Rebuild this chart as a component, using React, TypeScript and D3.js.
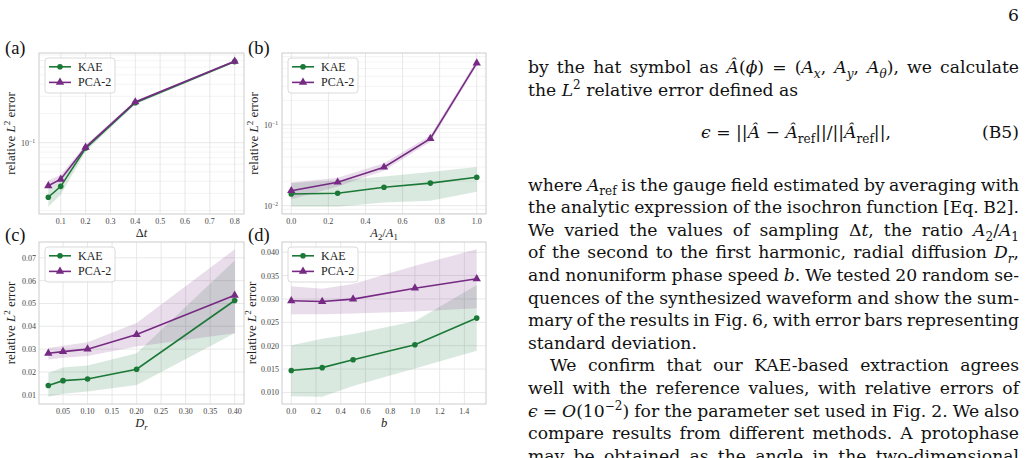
import React, { useLayoutEffect, useRef } from 'react';
import * as d3 from 'd3';

const PAGE_W = 1027;
const PAGE_H = 458;
const SERIF = '"Liberation Serif", "Times New Roman", serif';
const BODY_SERIF = '"DejaVu Serif", "Liberation Serif", serif';
const KAE_COLOR = '#1b7837';
const PCA_COLOR = '#762a83';

// (a) sampling interval Δt
const dtValues = [0.05, 0.1, 0.2, 0.4, 0.8];
const dtKaeMean = [0.0274, 0.0355, 0.0875, 0.258, 0.685];
const dtKaeLow = [0.0219, 0.029, 0.081, 0.248, 0.665];
const dtKaeHigh = [0.0325, 0.040, 0.093, 0.268, 0.703];
const dtPcaMean = [0.036, 0.042, 0.0897, 0.263, 0.69];
const dtPcaLow = [0.0325, 0.0395, 0.085, 0.255, 0.674];
const dtPcaHigh = [0.041, 0.0465, 0.095, 0.271, 0.706];

// (b) harmonic ratio A2/A1
const ratioValues = [0, 0.25, 0.5, 0.75, 1.0];
const ratioKaeMean = [0.01395, 0.0142, 0.0169, 0.019, 0.0225];
const ratioKaeLow = [0.0097, 0.0097, 0.0109, 0.0115, 0.0148];
const ratioKaeHigh = [0.019, 0.0205, 0.023, 0.026, 0.030];
const ratioPcaMean = [0.0153, 0.0195, 0.0299, 0.0676, 0.582];
const ratioPcaLow = [0.012, 0.0172, 0.027, 0.062, 0.54];
const ratioPcaHigh = [0.0193, 0.0222, 0.0335, 0.074, 0.63];

// (c) radial diffusion Dr
const drValues = [0.02, 0.05, 0.1, 0.2, 0.4];
const drKaeMean = [0.0141, 0.0162, 0.0169, 0.0212, 0.0513];
const drKaeLow = [0.0092, 0.0105, 0.0115, 0.0143, 0.037];
const drKaeHigh = [0.0195, 0.022, 0.0228, 0.0282, 0.0688];
const drPcaMean = [0.0282, 0.0289, 0.030, 0.0364, 0.0536];
const drPcaLow = [0.0255, 0.0262, 0.027, 0.0312, 0.037];
const drPcaHigh = [0.0305, 0.0315, 0.033, 0.0415, 0.0737];

// (d) nonuniform phase speed b
const bValues = [0, 0.25, 0.5, 1.0, 1.5];
const bKaeMean = [0.0147, 0.0153, 0.0170, 0.0202, 0.0259];
const bKaeLow = [0.0092, 0.0091, 0.0114, 0.0151, 0.0189];
const bKaeHigh = [0.0201, 0.0215, 0.0225, 0.0252, 0.033];
const bPcaMean = [0.0296, 0.02945, 0.02995, 0.0323, 0.0343];
const bPcaLow = [0.0267, 0.0267, 0.0269, 0.0273, 0.028];
const bPcaHigh = [0.0327, 0.0322, 0.0332, 0.0371, 0.0406];

// tick values
const dtTicks = [0.1, 0.2, 0.3, 0.4, 0.5, 0.6, 0.7, 0.8];
const ratioTicks = [0, 0.2, 0.4, 0.6, 0.8, 1.0];
const drTicks = [0.05, 0.1, 0.15, 0.2, 0.25, 0.3, 0.35, 0.4];
const bTicks = [0, 0.2, 0.4, 0.6, 0.8, 1.0, 1.2, 1.4];
const drYTicks = [0.01, 0.02, 0.03, 0.04, 0.05, 0.06, 0.07];
const bYTicks = [0.01, 0.015, 0.02, 0.025, 0.03, 0.035, 0.04];

const seriesNames = ['KAE', 'PCA-2'];

type Seg = { t: string; i?: boolean; sub?: boolean; sup?: boolean };

function renderSegs(segs: Seg[], size: number) {
  let shift = 0;
  return segs.map((s, k) => {
    const target = s.sub ? size * 0.28 : s.sup ? -size * 0.4 : 0;
    const dy = target - shift;
    shift = target;
    return (
      <tspan
        key={k}
        dy={dy}
        fontStyle={s.i ? 'italic' : undefined}
        fontSize={s.sub || s.sup ? size * 0.7 : undefined}
      >
        {s.t}
      </tspan>
    );
  });
}

interface SeriesSpec {
  name: string;
  color: string;
  marker: 'circle' | 'triangle';
  mean: number[];
  low: number[];
  high: number[];
}

interface PanelSpec {
  tag: string;
  box: { left: number; top: number; right: number; bottom: number };
  xs: number[];
  series: SeriesSpec[];
  logY: boolean;
  xTicks: number[];
  xFmt: (v: number) => string;
  yTicks: number[];
  yFmt: (v: number) => string;
  xLabel: Seg[];
  yLabelX: number;
  tagX: number;
  tagY: number;
}

function makeSeries(mk: number[], ml: number[], mh: number[], pm: number[], pl: number[], ph: number[]): SeriesSpec[] {
  return [
    { name: seriesNames[0], color: KAE_COLOR, marker: 'circle', mean: mk, low: ml, high: mh },
    { name: seriesNames[1], color: PCA_COLOR, marker: 'triangle', mean: pm, low: pl, high: ph },
  ];
}

const panels: PanelSpec[] = [
  {
    tag: '(a)',
    box: { left: 39, top: 53, right: 244, bottom: 214 },
    xs: dtValues,
    series: makeSeries(dtKaeMean, dtKaeLow, dtKaeHigh, dtPcaMean, dtPcaLow, dtPcaHigh),
    logY: true,
    xTicks: dtTicks,
    xFmt: (v) => v.toFixed(1),
    yTicks: [0.1],
    yFmt: () => '',
    xLabel: [{ t: 'Δ' }, { t: 't', i: true }],
    yLabelX: 15,
    tagX: 5,
    tagY: 53.5,
  },
  {
    tag: '(b)',
    box: { left: 282, top: 53, right: 486, bottom: 214 },
    xs: ratioValues,
    series: makeSeries(ratioKaeMean, ratioKaeLow, ratioKaeHigh, ratioPcaMean, ratioPcaLow, ratioPcaHigh),
    logY: true,
    xTicks: ratioTicks,
    xFmt: (v) => v.toFixed(1),
    yTicks: [0.01, 0.1],
    yFmt: () => '',
    xLabel: [{ t: 'A', i: true }, { t: '2', sub: true }, { t: '/' }, { t: 'A', i: true }, { t: '1', sub: true }],
    yLabelX: 258,
    tagX: 248,
    tagY: 53.5,
  },
  {
    tag: '(c)',
    box: { left: 39, top: 242, right: 244, bottom: 404 },
    xs: drValues,
    series: makeSeries(drKaeMean, drKaeLow, drKaeHigh, drPcaMean, drPcaLow, drPcaHigh),
    logY: false,
    xTicks: drTicks,
    xFmt: (v) => v.toFixed(2),
    yTicks: drYTicks,
    yFmt: (v) => v.toFixed(2),
    xLabel: [{ t: 'D', i: true }, { t: 'r', i: true, sub: true }],
    yLabelX: 15,
    tagX: 5,
    tagY: 240.5,
  },
  {
    tag: '(d)',
    box: { left: 282, top: 242, right: 486, bottom: 404 },
    xs: bValues,
    series: makeSeries(bKaeMean, bKaeLow, bKaeHigh, bPcaMean, bPcaLow, bPcaHigh),
    logY: false,
    xTicks: bTicks,
    xFmt: (v) => v.toFixed(1),
    yTicks: bYTicks,
    yFmt: (v) => v.toFixed(3),
    xLabel: [{ t: 'b', i: true }],
    yLabelX: 256,
    tagX: 248,
    tagY: 240.5,
  },
];

function minorLogTicks(domain: number[]) {
  const [lo, hi] = domain;
  const out: number[] = [];
  for (let d = Math.floor(Math.log10(lo)); d <= Math.ceil(Math.log10(hi)); d++) {
    for (let m = 2; m <= 9; m++) {
      const v = m * Math.pow(10, d);
      if (v > lo && v < hi) out.push(v);
    }
  }
  return out;
}

function Panel({ p }: { p: PanelSpec }) {
  const { left, top, right, bottom } = p.box;
  const [xmin, xmax] = d3.extent(p.xs) as [number, number];
  const xpad = (xmax - xmin) * 0.05;
  const x = d3.scaleLinear().domain([xmin - xpad, xmax + xpad]).range([left, right]);
  const lows = p.series.flatMap((s) => s.low);
  const highs = p.series.flatMap((s) => s.high);
  let y: (v: number) => number;
  let yDomain: number[];
  if (p.logY) {
    const lo = Math.log10(d3.min(lows)!);
    const hi = Math.log10(d3.max(highs)!);
    const pad = (hi - lo) * 0.05;
    const s = d3.scaleLog().domain([Math.pow(10, lo - pad), Math.pow(10, hi + pad)]).range([bottom, top]);
    y = s;
    yDomain = s.domain();
  } else {
    const lo = d3.min(lows)!;
    const hi = d3.max(highs)!;
    const pad = (hi - lo) * 0.05;
    const s = d3.scaleLinear().domain([lo - pad, hi + pad]).range([bottom, top]);
    y = s;
    yDomain = s.domain();
  }
  const idx = d3.range(p.xs.length);
  const minor = p.logY ? minorLogTicks(yDomain) : [];
  const tri = d3.symbol(d3.symbolTriangle, 30)()!;
  const midY = (top + bottom) / 2;
  const lgX = left + 6;
  const lgY = top + 5;

  return (
    <g>
      <rect x={left} y={top} width={right - left} height={bottom - top} fill="#ffffff" />
      {minor.map((v) => (
        <line key={'m' + v} x1={left} x2={right} y1={y(v)} y2={y(v)} stroke="#ededed" strokeWidth={0.6} />
      ))}
      {p.yTicks.map((v) => (
        <line key={'y' + v} x1={left} x2={right} y1={y(v)} y2={y(v)} stroke="#e2e2e2" strokeWidth={0.8} />
      ))}
      {p.xTicks.map((v) => (
        <line key={'x' + v} x1={x(v)} x2={x(v)} y1={top} y2={bottom} stroke="#e2e2e2" strokeWidth={0.8} />
      ))}
      {p.series.map((s) => {
        const band = d3
          .area<number>()
          .x((k) => x(p.xs[k]))
          .y0((k) => y(s.low[k]))
          .y1((k) => y(s.high[k]));
        return <path key={'band' + s.name} d={band(idx)!} fill={s.color} fillOpacity={0.16} stroke="none" />;
      })}
      {p.series.map((s) => {
        const ln = d3
          .line<number>()
          .x((k) => x(p.xs[k]))
          .y((k) => y(s.mean[k]));
        return (
          <g key={'ln' + s.name}>
            <path d={ln(idx)!} fill="none" stroke={s.color} strokeWidth={1.6} />
            {idx.map((k) =>
              s.marker === 'circle' ? (
                <circle key={k} cx={x(p.xs[k])} cy={y(s.mean[k])} r={2.8} fill={s.color} />
              ) : (
                <path key={k} d={tri} transform={`translate(${x(p.xs[k])},${y(s.mean[k])})`} fill={s.color} />
              )
            )}
          </g>
        );
      })}
      <rect x={left} y={top} width={right - left} height={bottom - top} fill="none" stroke="#cccccc" strokeWidth={1} />
      {/* tick labels */}
      {p.xTicks.map((v) => (
        <text key={'xt' + v} x={x(v)} y={bottom + 9.8} textAnchor="middle" fontSize={8} fill="#444">
          {p.xFmt(v)}
        </text>
      ))}
      {p.yTicks.map((v) =>
        p.logY ? (
          <text key={'yt' + v} x={left - 4} y={y(v) + 3} textAnchor="end" fontSize={8} fill="#444">
            <tspan>10</tspan>
            <tspan dy={-3} fontSize={5.6}>{'−' + Math.round(-Math.log10(v))}</tspan>
          </text>
        ) : (
          <text key={'yt' + v} x={left - 3} y={y(v) + 3} textAnchor="end" fontSize={8} fill="#444">
            {p.yFmt(v)}
          </text>
        )
      )}
      {/* axis labels */}
      <text x={(left + right) / 2} y={bottom + 22.5} textAnchor="middle" fontSize={12.5} fill="#222" style={{ whiteSpace: 'pre' }}>
        {renderSegs(p.xLabel, 12.5)}
      </text>
      <text
        transform={`translate(${p.yLabelX},${midY}) rotate(-90)`}
        textAnchor="middle"
        fontSize={13}
        fill="#222"
        style={{ whiteSpace: 'pre' }}
      >
        {renderSegs([{ t: 'relative ' }, { t: 'L', i: true }, { t: '2', sup: true }, { t: ' error' }], 13)}
      </text>
      {/* legend */}
      <rect x={lgX} y={lgY} width={70} height={35} rx={3} fill="#ffffff" fillOpacity={0.85} stroke="#d0d0d0" strokeWidth={0.8} />
      {p.series.map((s, k) => {
        const cy = lgY + 8.8 + k * 15.6;
        return (
          <g key={'lg' + s.name}>
            <line x1={lgX + 4} x2={lgX + 26} y1={cy} y2={cy} stroke={s.color} strokeWidth={1.6} />
            {s.marker === 'circle' ? (
              <circle cx={lgX + 15} cy={cy} r={2.8} fill={s.color} />
            ) : (
              <path d={tri} transform={`translate(${lgX + 15},${cy})`} fill={s.color} />
            )}
            <text x={lgX + 33} y={cy + 4} fontSize={12} fill="#222">
              {s.name}
            </text>
          </g>
        );
      })}
      <text x={p.tagX} y={p.tagY} fontSize={18.5} fill="#111">
        {p.tag}
      </text>
    </g>
  );
}

// body text of the right column
const TEXT_LEFT = 528;
const TEXT_RIGHT = 1019;
const TEXT_SIZE = 17.2;

interface TextLine {
  segs: Seg[];
  y: number;
  justify: boolean;
  indent?: number;
}

const plain = (t: string): Seg[] => [{ t }];

const bodyLines: TextLine[] = [
  {
    segs: [
      { t: 'by the hat symbol as ' },
      { t: 'Â', i: true },
      { t: '(' },
      { t: 'ϕ', i: true },
      { t: ') = (' },
      { t: 'A', i: true },
      { t: 'x', i: true, sub: true },
      { t: ', ' },
      { t: 'A', i: true },
      { t: 'y', i: true, sub: true },
      { t: ', ' },
      { t: 'A', i: true },
      { t: 'θ', i: true, sub: true },
      { t: '), we calculate' },
    ],
    y: 73,
    justify: true,
  },
  {
    segs: [{ t: 'the ' }, { t: 'L', i: true }, { t: '2', sup: true }, { t: ' relative error defined as' }],
    y: 95.5,
    justify: false,
  },
  {
    segs: [{ t: 'where ' }, { t: 'A', i: true }, { t: 'ref', sub: true }, { t: ' is the gauge field estimated by averaging with' }],
    y: 190.5,
    justify: true,
  },
  { segs: plain('the analytic expression of the isochron function [Eq. B2].'), y: 213.1, justify: true },
  {
    segs: [
      { t: 'We varied the values of sampling Δ' },
      { t: 't', i: true },
      { t: ', the ratio ' },
      { t: 'A', i: true },
      { t: '2', sub: true },
      { t: '/' },
      { t: 'A', i: true },
      { t: '1', sub: true },
    ],
    y: 235.7,
    justify: true,
  },
  {
    segs: [{ t: 'of the second to the first harmonic, radial diffusion ' }, { t: 'D', i: true }, { t: 'r', i: true, sub: true }, { t: ',' }],
    y: 258.3,
    justify: true,
  },
  {
    segs: [{ t: 'and nonuniform phase speed ' }, { t: 'b', i: true }, { t: '. We tested 20 random se-' }],
    y: 280.9,
    justify: true,
  },
  { segs: plain('quences of the synthesized waveform and show the sum-'), y: 303.5, justify: true },
  { segs: plain('mary of the results in Fig. 6, with error bars representing'), y: 326.1, justify: true },
  { segs: plain('standard deviation.'), y: 348.7, justify: false },
  { segs: plain('We confirm that our KAE-based extraction agrees'), y: 371.3, justify: true, indent: 22 },
  { segs: plain('well with the reference values, with relative errors of'), y: 393.9, justify: true },
  {
    segs: [
      { t: 'ϵ', i: true },
      { t: ' = ' },
      { t: 'O', i: true },
      { t: '(10' },
      { t: '−2', sup: true },
      { t: ') for the parameter set used in Fig. 2. We also' },
    ],
    y: 416.5,
    justify: true,
  },
  { segs: plain('compare results from different methods. A protophase'), y: 439.1, justify: true },
  { segs: plain('may be obtained as the angle in the two-dimensional'), y: 461.7, justify: true },
];

const equationSegs: Seg[] = [
  { t: 'ϵ', i: true },
  { t: ' = ||' },
  { t: 'Â', i: true },
  { t: ' − ' },
  { t: 'Â', i: true },
  { t: 'ref', sub: true },
  { t: '||/||' },
  { t: 'Â', i: true },
  { t: 'ref', sub: true },
  { t: '||,' },
];

function BodyText() {
  const refs = useRef<(SVGTextElement | null)[]>([]);
  useLayoutEffect(() => {
    const justify = () => {
      bodyLines.forEach((ln, k) => {
        const el = refs.current[k];
        if (!el || !ln.justify) return;
        el.style.wordSpacing = '0px';
        const natural = el.getComputedTextLength();
        const spaces = (el.textContent || '').split(' ').length - 1;
        const target = TEXT_RIGHT - (TEXT_LEFT + (ln.indent || 0));
        if (spaces > 0) el.style.wordSpacing = `${(target - natural) / spaces}px`;
      });
    };
    justify();
    if ((document as any).fonts && (document as any).fonts.ready) {
      (document as any).fonts.ready.then(justify);
    }
  }, []);
  return (
    <g fontSize={TEXT_SIZE} fill="#111" style={{ fontFamily: BODY_SERIF }}>
      {bodyLines.map((ln, k) => (
        <text
          key={k}
          ref={(el) => {
            refs.current[k] = el;
          }}
          x={TEXT_LEFT + (ln.indent || 0)}
          y={ln.y}
          style={{ whiteSpace: 'pre' }}
        >
          {renderSegs(ln.segs, TEXT_SIZE)}
        </text>
      ))}
      <text x={796} y={138} textAnchor="middle" style={{ whiteSpace: 'pre' }}>
        {renderSegs(equationSegs, TEXT_SIZE)}
      </text>
      <text x={TEXT_RIGHT} y={138} textAnchor="end">
        (B5)
      </text>
      <text x={TEXT_RIGHT} y={21} textAnchor="end">
        6
      </text>
    </g>
  );
}

export default function App() {
  return (
    <div style={{ position: 'absolute', left: 0, top: 0 }}>
      <svg width={PAGE_W} height={PAGE_H} style={{ display: 'block', background: '#ffffff', fontFamily: SERIF }}>
        <rect x={0} y={0} width={PAGE_W} height={PAGE_H} fill="#ffffff" />
        {panels.map((p) => (
          <Panel key={p.tag} p={p} />
        ))}
        <BodyText />
      </svg>
    </div>
  );
}
